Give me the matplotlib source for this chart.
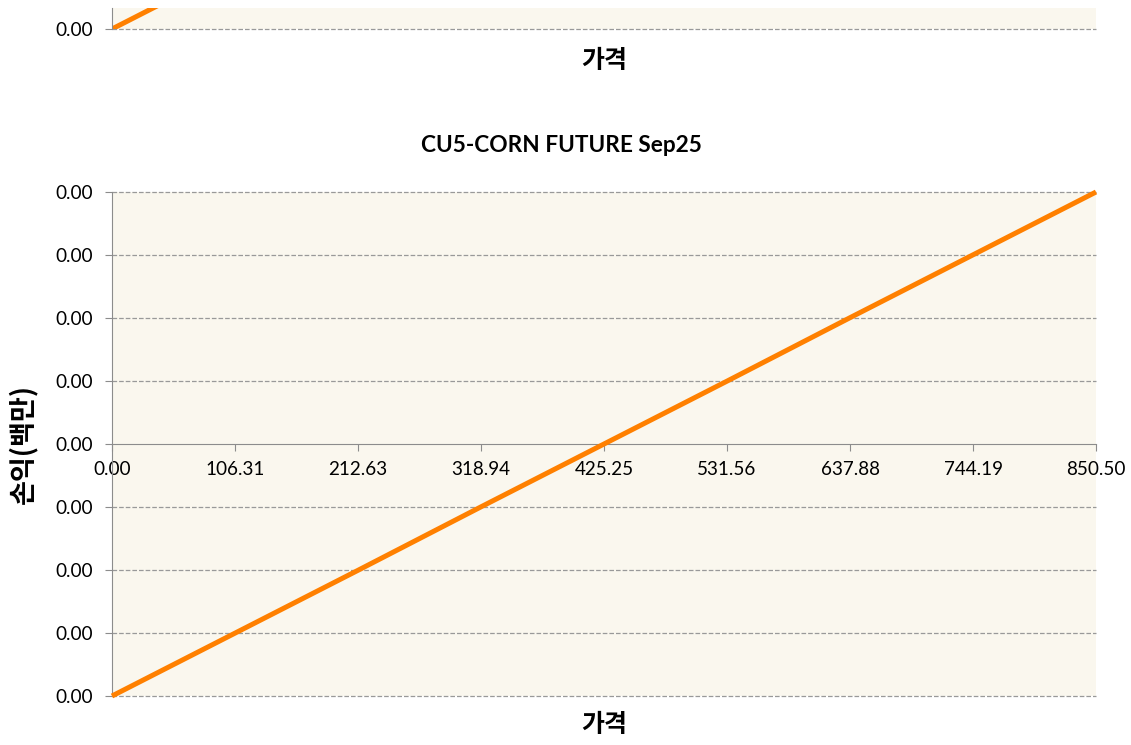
import numpy as np
import matplotlib.pyplot as plt
from matplotlib.ticker import FuncFormatter

# 가격 / 손익 데이터
price = [0.00, 106.31, 212.63, 318.94, 425.25, 531.56, 637.88, 744.19, 850.50]
pnl = [-0.000425, -0.000319, -0.000213, -0.000106, 0.0, 0.000106, 0.000213, 0.000319, 0.000425]
xtick_labels = ["0.00", "106.31", "212.63", "318.94", "425.25", "531.56", "637.88", "744.19", "850.50"]
title = "CU5-CORN FUTURE Sep25"

W, H = 1131, 745
bg = "#FAF7EE"
line_c = "#FF8000"
grid_c = "#999999"
spine_c = "#8C8C8C"
tick_font = ["Lato", "DejaVu Sans"]
kr_font = ["Noto Sans CJK KR", "DejaVu Sans"]
tick_size = 13.6


def fmt(v, pos):
    s = f"{v:.2f}"
    return "0.00" if s == "-0.00" else s


fig = plt.figure(figsize=(W / 100, H / 100), dpi=100)


def px_axes(left, top, right, bottom):
    return fig.add_axes([left / W, 1 - bottom / H, (right - left) / W, (bottom - top) / H])


ystep = (pnl[-1] - pnl[0]) / 8
yticks = [pnl[0] + i * ystep for i in range(9)]

# 위쪽 (잘린) 차트
ax0 = px_axes(112, 8, 1096, 29)
ax0.set_facecolor(bg)
ax0.plot(price, pnl, color=line_c, linewidth=3.6, solid_capstyle="butt", clip_on=True)
ax0.set_xlim(price[0], price[-1])
ax0.set_ylim(pnl[0], pnl[0] + 21 / 504 * (pnl[-1] - pnl[0]))
ax0.set_yticks([pnl[0]])
ax0.yaxis.set_major_formatter(FuncFormatter(fmt))
ax0.set_xticks([])
for s in ["top", "right", "bottom"]:
    ax0.spines[s].set_visible(False)
ax0.spines["left"].set_color(spine_c)
ax0.tick_params(axis="y", length=5, color=spine_c, labelsize=tick_size, pad=9)
ax0.grid(axis="y", linestyle="--", color=grid_c, linewidth=0.9)
for g in ax0.yaxis.get_gridlines():
    g.set_clip_on(False)
for t in ax0.get_yticklabels():
    t.set_fontfamily(tick_font)
fig.text(604 / W, 1 - 61 / H, "가격", ha="center", va="center",
         fontsize=18, fontweight="bold", family=kr_font)

# 메인 차트
ax = px_axes(112, 192, 1096, 696)
ax.set_facecolor(bg)
ax.plot(price, pnl, color=line_c, linewidth=3.6, solid_capstyle="butt", zorder=3, clip_on=False)
ax.set_xlim(price[0], price[-1])
ax.set_ylim(pnl[0], pnl[-1])
ax.set_yticks(yticks)
ax.yaxis.set_major_formatter(FuncFormatter(fmt))
ax.set_xticks(price)
ax.set_xticklabels(xtick_labels)
for s in ["top", "right"]:
    ax.spines[s].set_visible(False)
ax.spines["bottom"].set_position(("data", 0))
ax.spines["bottom"].set_color(spine_c)
ax.spines["left"].set_color(spine_c)
ax.tick_params(axis="y", length=5, color=spine_c, labelsize=tick_size, pad=9)
ax.tick_params(axis="x", length=5, color=spine_c, labelsize=tick_size, pad=7)
ax.grid(axis="y", linestyle="--", color=grid_c, linewidth=0.9)
ax.set_axisbelow(True)
for g in ax.yaxis.get_gridlines():
    g.set_clip_on(False)
for t in ax.get_yticklabels() + ax.get_xticklabels():
    t.set_fontfamily(tick_font)
ax.yaxis.get_gridlines()[4].set_visible(False)

fig.text(561 / W, 1 - 146 / H, title, ha="center", va="center",
         fontsize=16.3, fontweight="bold", family=tick_font)
fig.text(604 / W, 1 - 725 / H, "가격", ha="center", va="center",
         fontsize=18, fontweight="bold", family=kr_font)
fig.text(23 / W, 1 - 444 / H, "손익(백만)", ha="center", va="center", rotation=90,
         fontsize=19.5, fontweight="bold", family=kr_font)

fig.savefig("out.png", dpi=100, facecolor="white")
